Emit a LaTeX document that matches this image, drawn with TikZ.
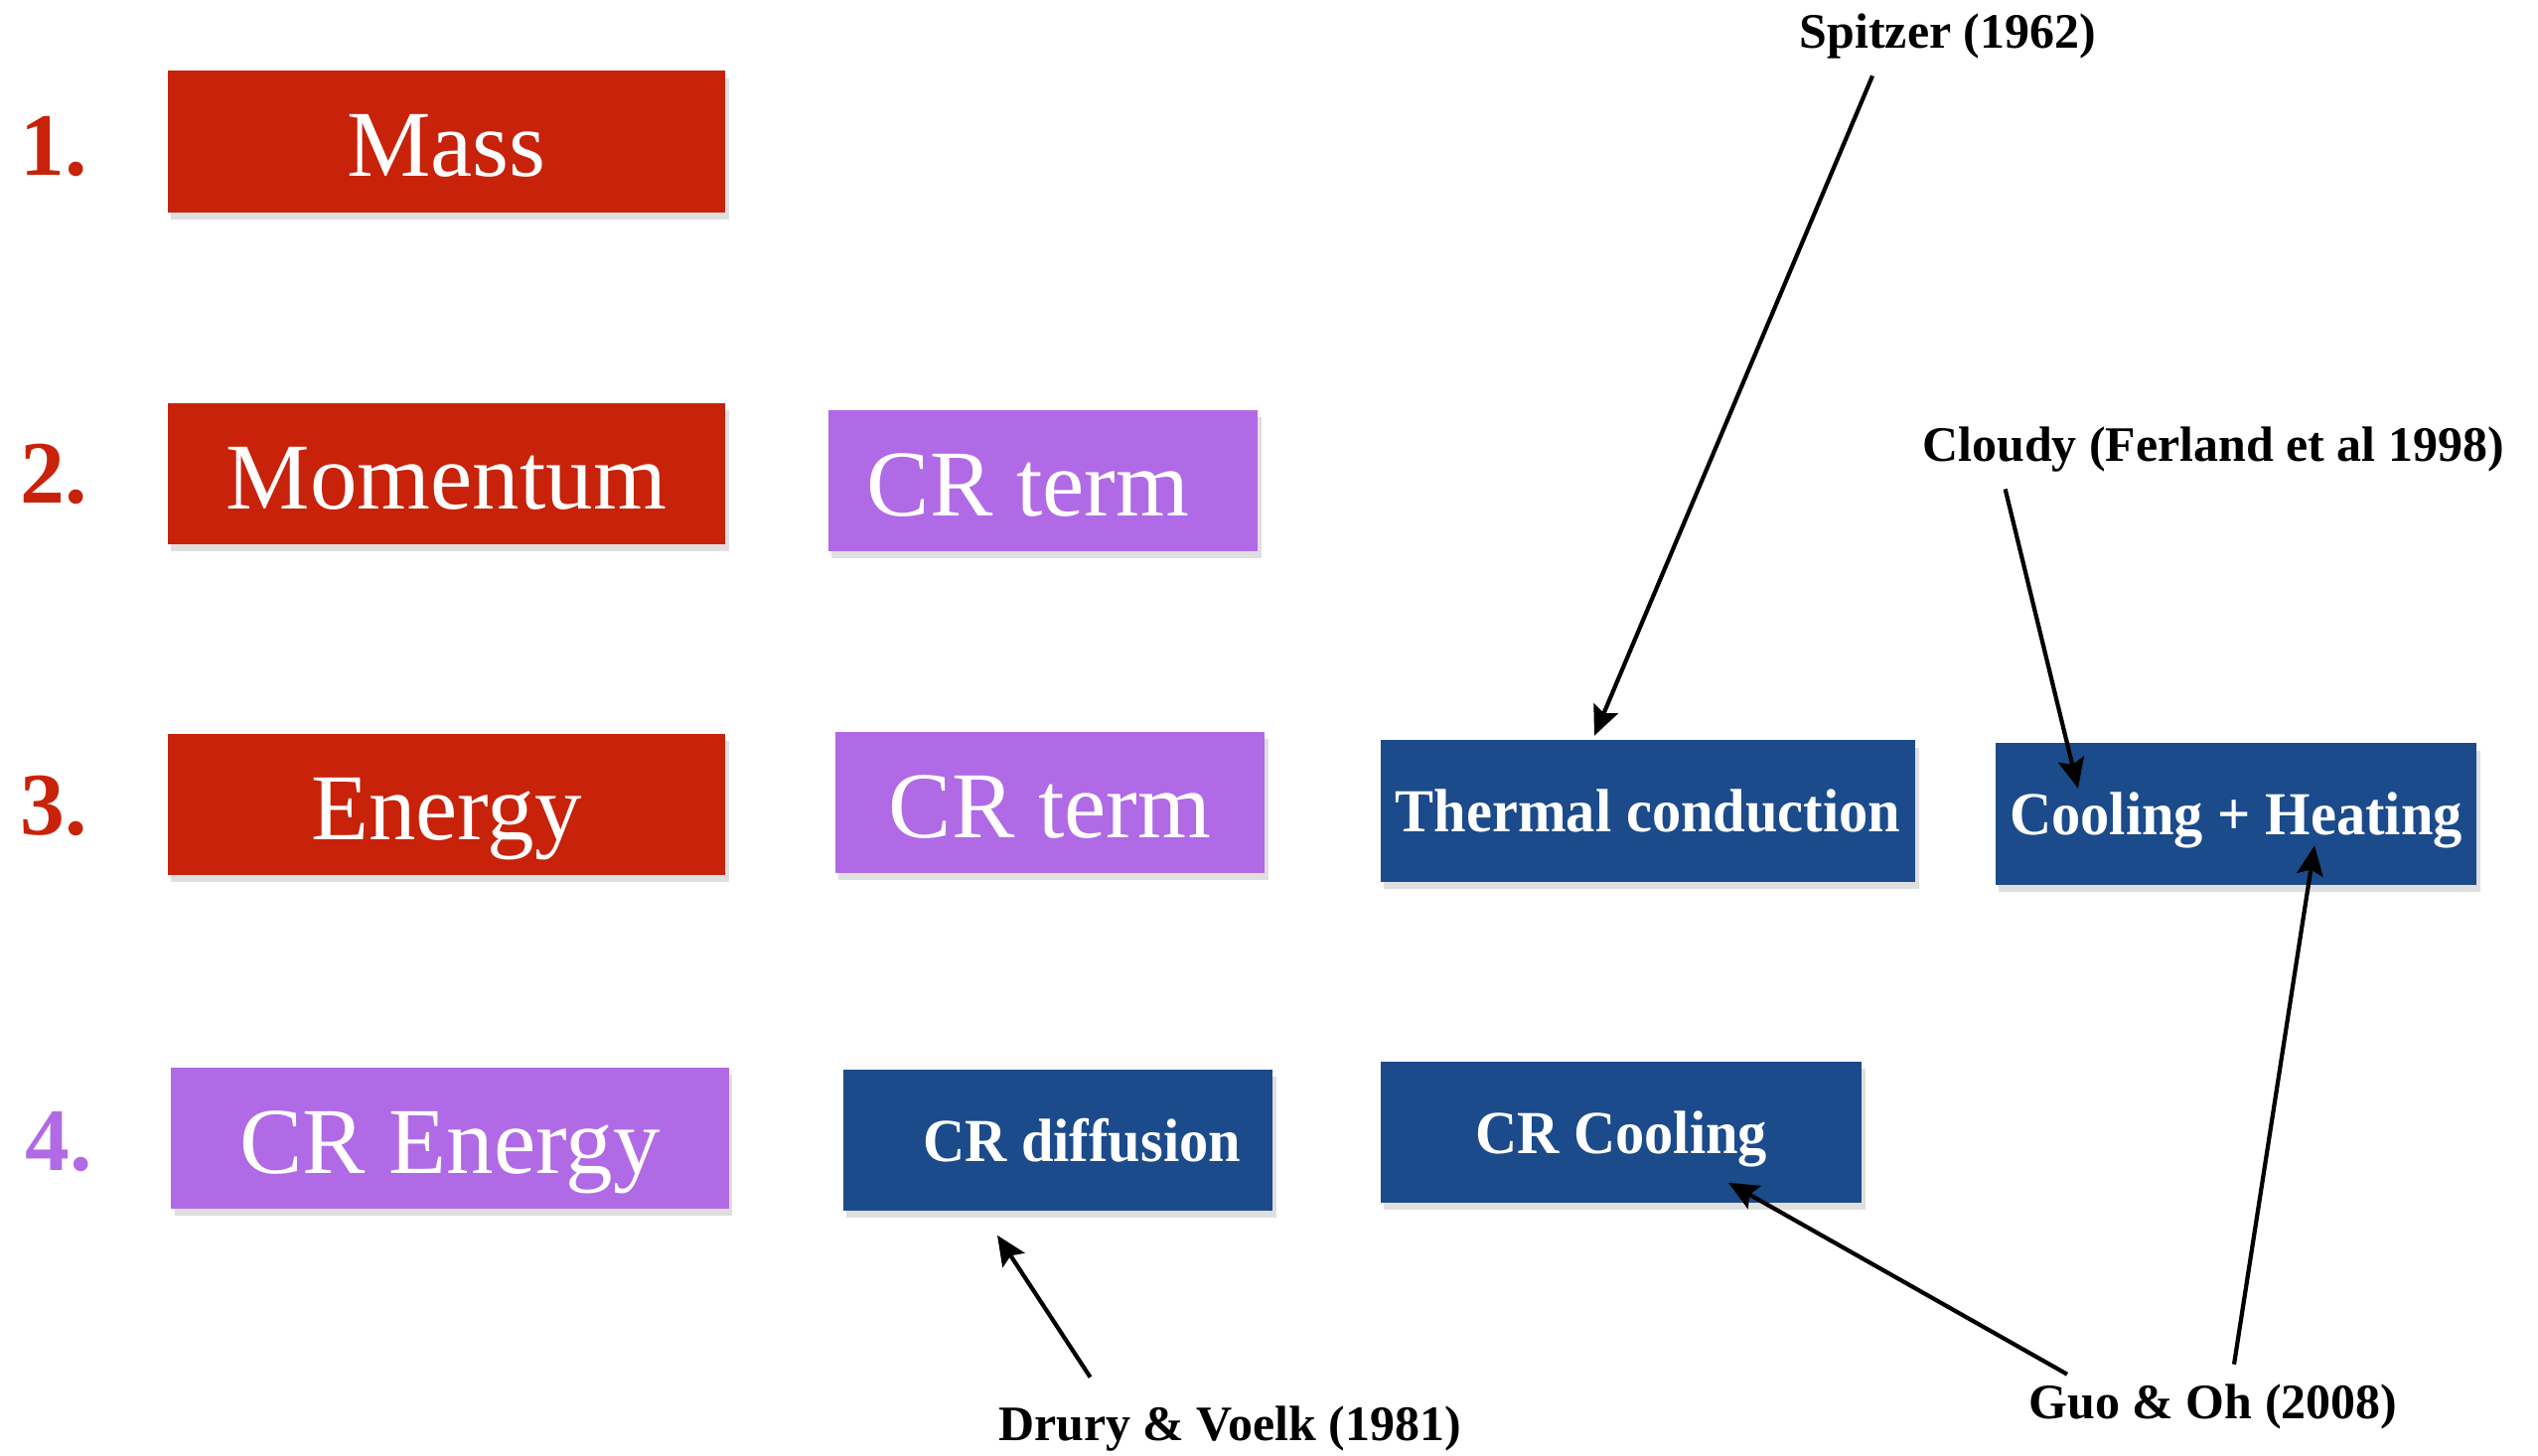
\documentclass[tikz,border=0pt]{standalone}
\usepackage{fontspec}
\setmainfont{Liberation Serif}
\newfontfamily\narrowserif[FakeStretch=0.95]{Liberation Serif}
\usetikzlibrary{arrows.meta, calc, positioning, shadows}
\definecolor{slidered}{RGB}{200,34,10}
\definecolor{slidepurple}{RGB}{177,106,229}
\definecolor{slideblue}{RGB}{27,75,138}

\begin{document}
\begin{tikzpicture}[
    x=0.01cm, y=-0.01cm,
    eqbox/.style={rectangle, minimum width=5.61cm, minimum height=1.42cm, inner sep=0pt, text=white, font=\fontsize{27}{30}\selectfont, text height=20pt, text depth=0pt, drop shadow={opacity=0.25, shadow xshift=1pt, shadow yshift=-2pt}},
    termbox/.style={eqbox, minimum width=4.32cm},
    physbox/.style={rectangle, minimum height=1.42cm, inner sep=0pt, fill=slideblue, text=white, font=\narrowserif\bfseries\fontsize{17.5}{20}\selectfont, text height=12pt, text depth=0pt, drop shadow={opacity=0.25, shadow xshift=1pt, shadow yshift=-2pt}},
    num/.style={font=\bfseries\fontsize{25.5}{28}\selectfont, inner sep=0pt},
    ref/.style={font=\bfseries\fontsize{14.2}{17}\selectfont, inner sep=0pt},
    arrow/.style={-{Stealth[length=8.5pt, width=7.5pt, inset=1.5pt]}, line width=1.2pt}
]
    \useasboundingbox (0,0) rectangle (2555,1465);

    % equations
    \node[num, text=slidered] (n1) at (54,148) {1.};
    \node[num, text=slidered] (n2) at (54,477) {2.};
    \node[num, text=slidered] (n3) at (54,811) {3.};
    \node[num, text=slidepurple] (n4) at (59,1150) {4.};

    \node[eqbox, fill=slidered] (mass) at (449.5,142.5) {Mass};
    \node[eqbox, fill=slidered] (momentum) at (449.5,477) {Momentum};
    \node[eqbox, fill=slidered] (energy) at (449.5,810) {Energy};
    \node[eqbox, fill=slidepurple] (crenergy) at (453,1146) {CR Energy};

    % CR terms
    \node[termbox, fill=slidepurple] (crmom) at (1050,484) {CR term\hspace*{0.3cm}};
    \node[termbox, fill=slidepurple] (crerg) at (1057,808) {CR term};

    % extra physics
    \node[physbox, minimum width=5.38cm] (thermal) at (1659,816.5) {Thermal conduction};
    \node[physbox, minimum width=4.84cm] (coolheat) at (2251,819.5) {Cooling + Heating};
    \node[physbox, minimum width=4.32cm] (crdiff) at (1065,1148) {\hspace*{0.48cm}CR diffusion};
    \node[physbox, minimum width=4.84cm] (crcool) at (1632,1140) {CR Cooling};

    % references
    \node[ref] (spitzer) at (1961,36) {Spitzer (1962)};
    \node[ref] (cloudy) at (2228,453) {Cloudy (Ferland et al 1998)};
    \node[ref] (drury) at (1238,1439) {Drury \& Voelk (1981)};
    \node[ref] (guo) at (2228,1416) {Guo \& Oh (2008)};

    \draw[arrow] ($(spitzer.south)+(-76,17)$) -- ($(thermal.north)+(-54,-4)$);
    \draw[arrow] ($(cloudy.south west)+(84,16)$) -- ($(coolheat.north)+(-159,46)$);
    \draw[arrow] ($(guo.north)+(21,-19)$) -- ($(coolheat.south)+(79,-40)$);
    \draw[arrow] ($(guo.north)+(-147,-9)$) -- ($(crcool.south)+(108,-21)$);
    \draw[arrow] ($(drury.north west)+(93,-29)$) -- ($(crdiff.south)+(-61,24)$);
\end{tikzpicture}
\end{document}
